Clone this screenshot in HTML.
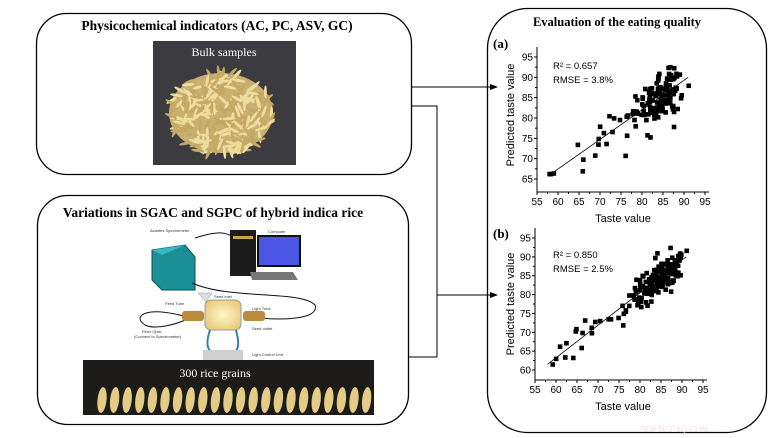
<!DOCTYPE html>
<html><head><meta charset="utf-8">
<style>
html,body{margin:0;padding:0;background:#fff;}
svg{display:block;}
.t{font-family:"Liberation Serif",serif;font-weight:bold;}
.s{font-family:"Liberation Sans",sans-serif;}
</style></head>
<body>
<svg id="c" width="778" height="438" viewBox="0 0 778 438" xmlns="http://www.w3.org/2000/svg">
<defs>
<marker id="ar" markerWidth="8" markerHeight="8" refX="7" refY="4" orient="auto" markerUnits="userSpaceOnUse">
<path d="M0,1 L8,4 L0,7 Z" fill="#000"/></marker>
<radialGradient id="tube" cx="0.5" cy="0.5" r="0.6"><stop offset="0" stop-color="#fff6c8"/><stop offset="1" stop-color="#e8c97a"/></radialGradient>
</defs>
<rect x="36.5" y="13.5" width="375" height="161" rx="30" fill="none" stroke="#000" stroke-width="1.3"/>
<rect x="37.5" y="195.5" width="371" height="229" rx="30" fill="none" stroke="#000" stroke-width="1.3"/>
<rect x="487.5" y="8.5" width="279" height="424" rx="40" fill="none" stroke="#000" stroke-width="1.3"/>
<line x1="411" y1="87" x2="497" y2="87" stroke="#000" stroke-width="1" marker-end="url(#ar)"/>
<polyline points="411,106 437,106 437,357 409,357" fill="none" stroke="#000" stroke-width="1"/>
<line x1="437" y1="295" x2="497" y2="295" stroke="#000" stroke-width="1" marker-end="url(#ar)"/>
<text class="t" x="217" y="30" font-size="13.5" text-anchor="middle">Physicochemical indicators (AC, PC, ASV, GC)</text>
<text class="t" x="213" y="217" font-size="13.5" text-anchor="middle">Variations in SGAC and SGPC of hybrid indica rice</text>
<text class="t" x="617" y="26" font-size="12.5" text-anchor="middle">Evaluation of the eating quality</text>
<text class="t" x="493" y="48" font-size="13">(a)</text>
<text class="t" x="493" y="238" font-size="13">(b)</text>
<rect x="153" y="41" width="143" height="124" fill="#3b3b40"/>
<ellipse cx="221" cy="113" rx="52" ry="40" fill="#c9b071"/>
<g id="bulk"></g>
<text x="224" y="56" font-family="Liberation Serif,serif" font-size="12" fill="#fff" text-anchor="middle">Bulk samples</text>
<g>
<text x="150" y="232" class="s" font-size="4" fill="#333">Avantes Spectrometer</text>
<text x="268" y="233" class="s" font-size="4" fill="#333">Computer</text>
<polygon points="152,250 185,245 195,257 195,290 162,290 152,280" fill="#1a8f96" stroke="#0b4f55"/>
<polygon points="152,250 185,245 162,255" fill="#36b9c2"/>
<rect x="230" y="230" width="26" height="46" fill="#1b1b1b"/>
<rect x="233" y="236" width="20" height="3" fill="#c9a640"/>
<rect x="258" y="236" width="42" height="30" fill="#4a55e6" stroke="#111" stroke-width="2"/>
<polygon points="250,272 293,272 298,280 252,280" fill="#777"/>
<path d="M195,238 C220,230 225,233 232,236" fill="none" stroke="#111" stroke-width="1"/>
<path d="M192,283 C230,300 300,290 315,305 C320,320 280,320 260,318" fill="none" stroke="#111" stroke-width="1"/>
<path d="M190,318 C150,305 130,315 145,325 C155,330 175,325 190,318" fill="none" stroke="#111" stroke-width="1"/>
<rect x="182" y="311" width="22" height="10" rx="3" fill="#b98b3a"/>
<rect x="243" y="311" width="22" height="10" rx="3" fill="#b98b3a"/>
<rect x="205" y="300" width="36" height="30" rx="6" fill="url(#tube)" stroke="#999"/>
<polygon points="198,293 212,293 206,302" fill="#ddd" stroke="#999" stroke-width="0.5"/>
<path d="M210,330 C205,345 208,350 212,352 M236,330 C240,345 238,350 234,352" fill="none" stroke="#3b7fb0" stroke-width="2"/>
<rect x="203" y="350" width="40" height="10" fill="#cfcfcf"/>
<g class="s" font-size="4" fill="#333">
<text x="214" y="298">Seed inlet</text><text x="165" y="305">Feed Tube</text>
<text x="252" y="310">Light Tube</text><text x="142" y="333">Fiber Optic</text>
<text x="134" y="338">(Connect to Spectrometer)</text><text x="252" y="330">Seed outlet</text>
<text x="252" y="356">Light Control Unit</text></g>
</g>
<rect x="83" y="360" width="291" height="55" fill="#1e1c1b"/>
<text x="215" y="377" font-family="Liberation Serif,serif" font-size="12" fill="#fff" text-anchor="middle">300 rice grains</text>
<g id="grains"></g>
<g class="s" font-size="9.5" fill="#000" stroke="none">
<text x="553" y="69">R² = 0.657</text><text x="553" y="83">RMSE = 3.8%</text>
<text x="553" y="258">R² = 0.850</text><text x="553" y="272">RMSE = 2.5%</text>
<text x="623" y="222" font-size="11" text-anchor="middle">Taste value</text>
<text x="623" y="410" font-size="11" text-anchor="middle">Taste value</text>
<text transform="translate(514,115) rotate(-90)" font-size="11" text-anchor="middle">Predicted taste value</text>
<text transform="translate(514,304) rotate(-90)" font-size="11" text-anchor="middle">Predicted taste value</text>
</g>
<g id="ax"></g>
<text x="640" y="432" class="s" font-size="8" fill="#f6e0e0">SCIENCEAQ.COM</text>
</svg>
<script>
var NS="http://www.w3.org/2000/svg";
function el(p,t,a){var e=document.createElementNS(NS,t);for(var k in a)e.setAttribute(k,a[k]);p.appendChild(e);return e;}
var seed=11;function r(){seed=(seed*16807)%2147483647;return seed/2147483647;}
function g(){return (r()+r()+r()+r()-2)*1.7;}
var ax=document.getElementById('ax');
function chart(X0,ymin,ymax,ypx0,ypx1,yaxis,sd,n,p0){
 var sx=function(v){return X0+(v-55)*4.2;};
 var sy=function(v){return ypx1+(v-ymin)*(ypx0-ypx1)/(ymax-ymin);};
 el(ax,'line',{x1:X0,y1:ypx0-10,x2:X0,y2:yaxis,stroke:'#000','stroke-width':1});
 el(ax,'line',{x1:X0,y1:yaxis,x2:X0+172,y2:yaxis,stroke:'#000','stroke-width':1});
 for(var v=55;v<=95;v+=2.5){var x=sx(v),big=(v%5==0);
  el(ax,'line',{x1:x,y1:yaxis,x2:x,y2:yaxis+(big?3:2),stroke:'#000'});
  if(big){var t=el(ax,'text',{x:x,y:yaxis+13,'font-size':10,'text-anchor':'middle','font-family':'Liberation Sans,sans-serif'});t.textContent=v;}}
 for(var v=ymin;v<=ymax;v+=2.5){var y=sy(v),big=(v%5==0);
  el(ax,'line',{x1:X0,y1:y,x2:X0-(big?3:2),y2:y,stroke:'#000'});
  if(big){var t=el(ax,'text',{x:X0-4,y:y+3.5,'font-size':10,'text-anchor':'end','font-family':'Liberation Sans,sans-serif'});t.textContent=v;}}
 el(ax,'line',{x1:sx(58),y1:sy(p0),x2:sx(91),y2:sy(90),stroke:'#000','stroke-width':0.8});
 for(var i=0;i<n;i++){var tv;
  if(i<26)tv=58+r()*21;else tv=84.5+g()*3;
  if(tv>92.5)tv=92.5-r();
  var p=p0+(tv-58)*(90-p0)/33+g()*sd;
  if(p>93.2)p=93.2-r();
  if(p<ymin+0.8)p=ymin+0.8+r();
  el(ax,'rect',{x:sx(tv)-2.3,y:sy(p)-2.3,width:4.6,height:4.6,fill:'#000'});}
}
chart(537,65,95,57,179,192,3.3,150,66);
chart(535,60,95,238,370,380,2.3,170,61.5);
var b=document.getElementById('bulk');
for(var i=0;i<240;i++){var a=r()*6.283,d=Math.sqrt(r());var cx=221+Math.cos(a)*d*52,cy=113+Math.sin(a)*d*42;
 el(b,'ellipse',{cx:cx,cy:cy,rx:6.5,ry:1.5,fill:(r()<0.5?'#eedc9f':'#c4a964'),transform:'rotate('+(r()*180)+' '+cx+' '+cy+')'});}
var gr=document.getElementById('grains');
for(var i=0;i<22;i++){var cx=102+i*12.6;
 el(gr,'ellipse',{cx:cx,cy:400,rx:4.5,ry:13,fill:'#e3cc85',transform:'rotate(6 '+cx+' 400)'});}
</script>
</body></html>
